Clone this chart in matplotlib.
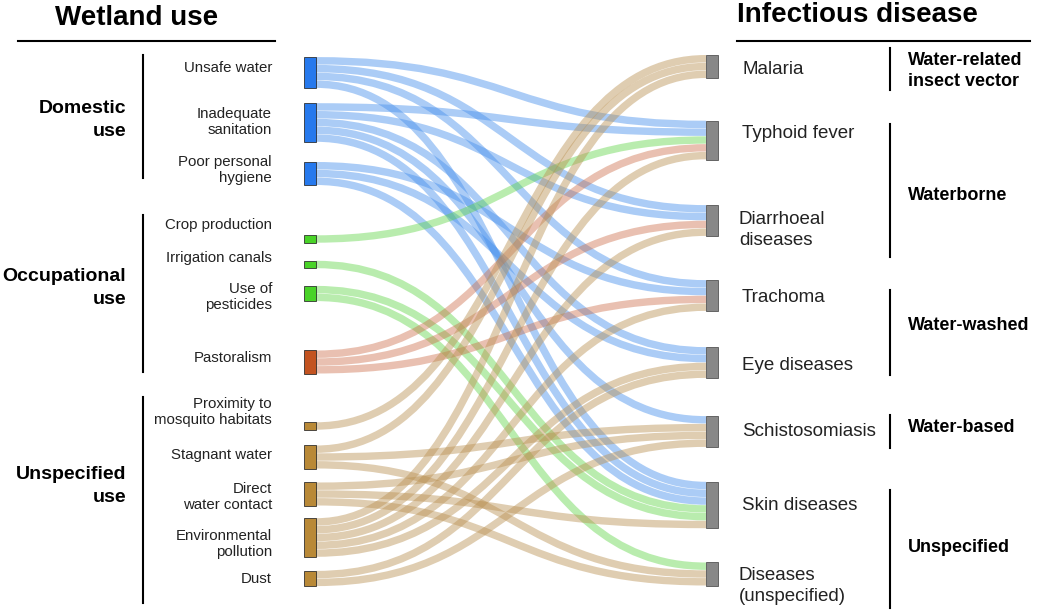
import numpy as np
import matplotlib.pyplot as plt
from matplotlib.path import Path
from matplotlib.patches import PathPatch, Rectangle

# --- data ---
sources = ['Unsafe water', 'Inadequate\nsanitation', 'Poor personal\nhygiene',
           'Crop production', 'Irrigation canals', 'Use of\npesticides', 'Pastoralism',
           'Proximity to\nmosquito habitats', 'Stagnant water', 'Direct\nwater contact',
           'Environmental\npollution', 'Dust']
source_kind = ['domestic', 'domestic', 'domestic',
               'occupational', 'occupational', 'occupational', 'pastoral',
               'unspecified', 'unspecified', 'unspecified', 'unspecified', 'unspecified']
targets = ['Malaria', 'Typhoid fever', 'Diarrhoeal\ndiseases', 'Trachoma', 'Eye diseases',
           'Schistosomiasis', 'Skin diseases', 'Diseases\n(unspecified)']

link_source = [0, 0, 0, 0,
               1, 1, 1, 1, 1,
               2, 2, 2,
               3, 4, 5, 5,
               6, 6, 6,
               7,
               8, 8, 8,
               9, 9, 9,
               10, 10, 10, 10, 10,
               11, 11]
link_target = [1, 2, 3, 6,
               1, 2, 4, 5, 6,
               3, 4, 6,
               1, 6, 6, 7,
               1, 2, 3,
               0,
               0, 5, 7,
               5, 6, 7,
               0, 1, 2, 3, 4,
               4, 5]
link_value = [1] * len(link_source)

use_groups = ['Domestic\nuse', 'Occupational\nuse', 'Unspecified\nuse']
disease_groups = ['Water-related\ninsect vector', 'Waterborne', 'Water-washed',
                  'Water-based', 'Unspecified']

# --- layout (pixel coordinates, y down) ---
left_center = [72.5, 122.5, 173.5, 239, 264.5, 293.5, 362, 426, 457, 494, 537.5, 578.5]
right_center = [66.5, 140, 220.5, 295.5, 362.5, 431.5, 505, 574]
unit = 7.8
lx0, lx1 = 304, 316
rx0, rx1 = 706, 718

left_label_y = [68, 122, 170, 225, 258, 297, 358, 412, 455, 497, 544, 579]
right_label_y = [70, 133, 230, 298, 366, 432, 505, 586]
use_group_y = [120, 288, 486]
use_bar = [(55, 178), (215, 372), (397, 603)]
disease_group_y = [71, 196, 326, 428, 548]
disease_bar = [(48, 90), (124, 257), (290, 375), (415, 448), (490, 608)]

node_col = {'domestic': '#1a72ec', 'occupational': '#3fd11c',
            'pastoral': '#c04a14', 'unspecified': '#b5832c'}
link_col = {'domestic': (0.27, 0.56, 0.93, 0.45), 'occupational': (0.35, 0.83, 0.25, 0.42),
            'pastoral': (0.80, 0.42, 0.27, 0.42), 'unspecified': (0.73, 0.57, 0.32, 0.45)}

plt.rcParams['font.family'] = ['Liberation Sans', 'DejaVu Sans']

fig = plt.figure(figsize=(10.44, 6.11), dpi=100)
ax = fig.add_axes([0, 0, 1, 1])
ax.set_xlim(0, 1044)
ax.set_ylim(611, 0)
ax.axis('off')

# node sizes
src_total = np.zeros(len(sources))
tgt_total = np.zeros(len(targets))
for s, t, v in zip(link_source, link_target, link_value):
    src_total[s] += v
    tgt_total[t] += v

# stack links in each node: outgoing sorted by target, incoming sorted by source
src_off = {}
for i in range(len(sources)):
    idx = [k for k in range(len(link_source)) if link_source[k] == i]
    idx.sort(key=lambda k: right_center[link_target[k]])
    y = left_center[i] - src_total[i] * unit / 2
    for k in idx:
        src_off[k] = y + link_value[k] * unit / 2
        y += link_value[k] * unit
tgt_off = {}
for j in range(len(targets)):
    idx = [k for k in range(len(link_source)) if link_target[k] == j]
    idx.sort(key=lambda k: left_center[link_source[k]])
    y = right_center[j] - tgt_total[j] * unit / 2
    for k in idx:
        tgt_off[k] = y + link_value[k] * unit / 2
        y += link_value[k] * unit

# links
xm = (lx1 + rx0) / 2
for k in range(len(link_source)):
    y0, y1 = src_off[k], tgt_off[k]
    path = Path([(lx1, y0), (xm, y0), (xm, y1), (rx0, y1)],
                [Path.MOVETO, Path.CURVE4, Path.CURVE4, Path.CURVE4])
    c = link_col[source_kind[link_source[k]]]
    ax.add_patch(PathPatch(path, facecolor='none', edgecolor=c,
                           lw=link_value[k] * unit * 0.72 * 0.95, capstyle='butt'))

# nodes
for i in range(len(sources)):
    h = src_total[i] * unit
    ax.add_patch(Rectangle((lx0, left_center[i] - h / 2), lx1 - lx0, h,
                           facecolor=node_col[source_kind[i]], edgecolor='#2a2a2a',
                           lw=0.6, alpha=0.95, zorder=3))
for j in range(len(targets)):
    h = tgt_total[j] * unit
    ax.add_patch(Rectangle((rx0, right_center[j] - h / 2), rx1 - rx0, h,
                           facecolor='#888888', edgecolor='#555555', lw=0.6, zorder=3))

# left text
ax.text(137, 18, 'Wetland use', fontsize=20, fontweight='bold', ha='center', va='center')
ax.plot([18, 275], [41, 41], color='black', lw=1.5)
for name, y in zip(sources, left_label_y):
    ax.text(272, y, name, fontsize=10.8, ha='right', va='center', linespacing=1.2, color='#222222')
for name, y in zip(use_groups, use_group_y):
    ax.text(126, y, name, fontsize=14, fontweight='bold', ha='right', va='center', linespacing=1.45)
for y0, y1 in use_bar:
    ax.plot([143, 143], [y0, y1], color='black', lw=1.5)

# right text
ax.text(857, 15, 'Infectious disease', fontsize=20, fontweight='bold', ha='center', va='center')
ax.plot([737, 1030], [41, 41], color='black', lw=1.5)
for name, y in zip(targets, right_label_y):
    x = 742 if '\n' not in name else 739
    ax.text(x, y, name, fontsize=13.5, ha='left', va='center', linespacing=1.28, color='#222222')
for name, y in zip(disease_groups, disease_group_y):
    ax.text(908, y, name, fontsize=13, fontweight='bold', ha='left', va='center', linespacing=1.25)
for y0, y1 in disease_bar:
    ax.plot([890, 890], [y0, y1], color='black', lw=1.5)

fig.savefig('out.png', dpi=100)
